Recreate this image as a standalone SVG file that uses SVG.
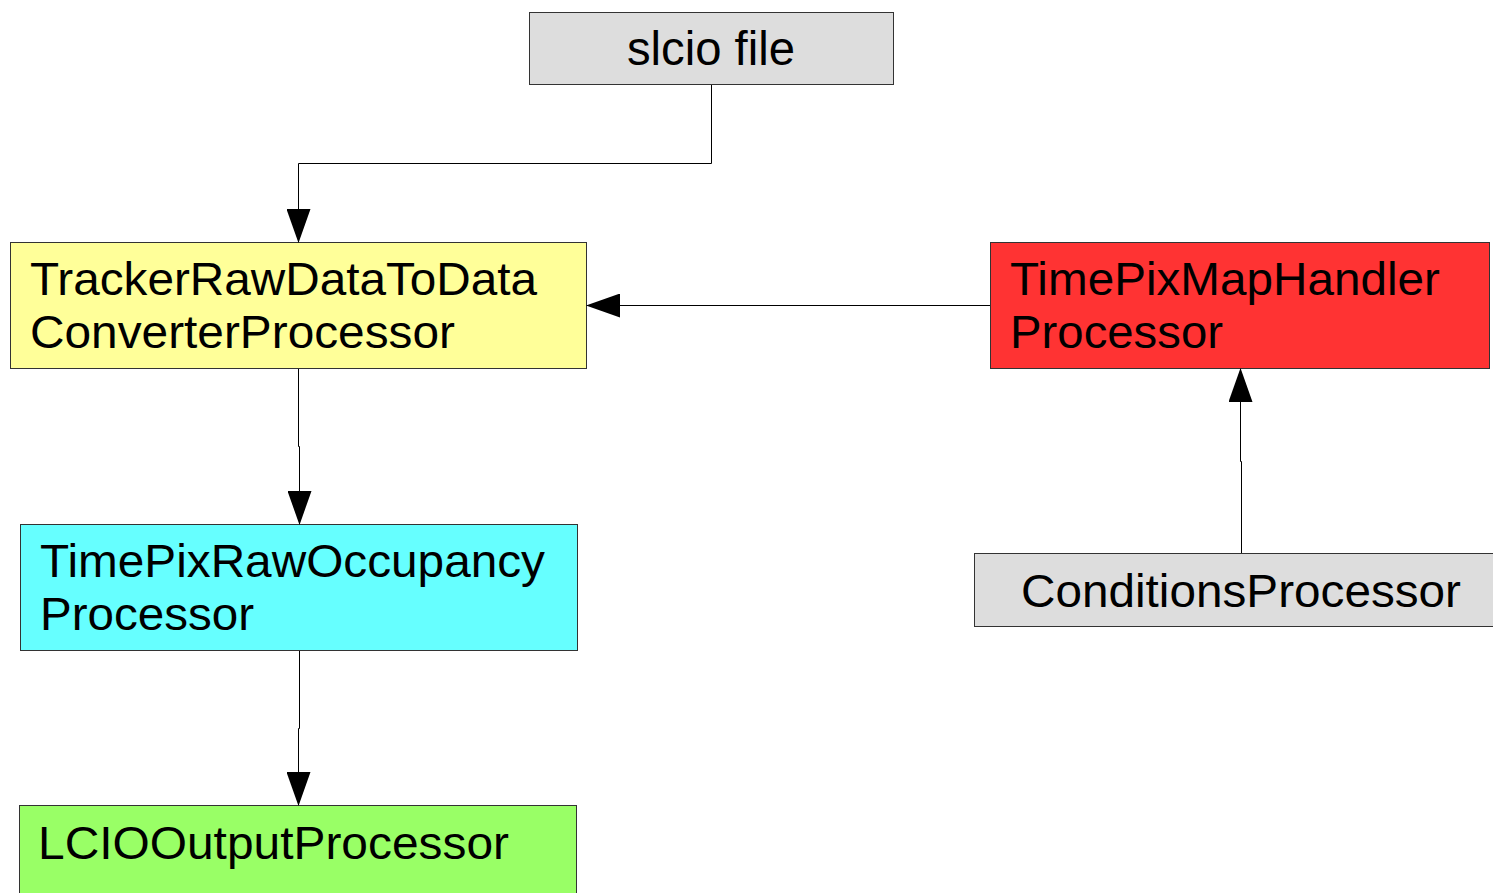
<svg xmlns="http://www.w3.org/2000/svg" width="1493" height="893" viewBox="0 0 1493 893">
<defs>
<marker id="arr" markerUnits="userSpaceOnUse" markerWidth="34" markerHeight="24" viewBox="0 0 34 24" refX="33" refY="12" orient="auto">
<path d="M0,0 L34,12 L0,24 Z" fill="#000"/>
</marker>
<style>
.box{stroke:#333;stroke-width:1}
.t{font-family:"Liberation Sans",Arial,sans-serif;font-size:47px;fill:#000}
.c{fill:none;stroke:#000;stroke-width:1}
</style>
</defs>
<rect width="1493" height="893" fill="#fff"/>
<g id="slcio">
<rect class="box" x="529.5" y="12.5" width="364" height="72" fill="#dddddd"/>
<text class="t" x="627" y="65" style="font-size:48px" textLength="168" lengthAdjust="spacingAndGlyphs">slcio file</text>
</g>
<g id="tracker">
<rect class="box" x="10.5" y="242.5" width="576" height="126" fill="#ffff99"/>
<text class="t" x="30" y="295" textLength="507" lengthAdjust="spacingAndGlyphs">TrackerRawDataToData</text>
<text class="t" x="30" y="348" textLength="425" lengthAdjust="spacingAndGlyphs">ConverterProcessor</text>
</g>
<g id="mapHandler">
<rect class="box" x="990.5" y="242.5" width="499" height="126" fill="#ff3333"/>
<text class="t" x="1010" y="295" textLength="430" lengthAdjust="spacingAndGlyphs">TimePixMapHandler</text>
<text class="t" x="1010" y="348" textLength="213" lengthAdjust="spacingAndGlyphs">Processor</text>
</g>
<g id="occupancy">
<rect class="box" x="20.5" y="524.5" width="557" height="126" fill="#66ffff"/>
<text class="t" x="40" y="577" textLength="505" lengthAdjust="spacingAndGlyphs">TimePixRawOccupancy</text>
<text class="t" x="40" y="630" textLength="214" lengthAdjust="spacingAndGlyphs">Processor</text>
</g>
<g id="conditions">
<rect class="box" x="974.5" y="553.5" width="530" height="73" fill="#dddddd"/>
<text class="t" x="1021" y="607" textLength="440" lengthAdjust="spacingAndGlyphs">ConditionsProcessor</text>
</g>
<g id="lcioOutput">
<rect class="box" x="19.5" y="805.5" width="557" height="100" fill="#99ff66"/>
<text class="t" x="38" y="859" textLength="471" lengthAdjust="spacingAndGlyphs">LCIOOutputProcessor</text>
</g>
<g id="connectors">
<polyline class="c" points="711.5,85 711.5,163.5 298.5,163.5 298.5,242" marker-end="url(#arr)"/>
<polyline class="c" points="990,305.5 587,305.5" marker-end="url(#arr)"/>
<polyline class="c" points="298.5,369 298.5,446.5 299.5,446.5 299.5,524" marker-end="url(#arr)"/>
<polyline class="c" points="299.5,651 299.5,728.5 298.5,728.5 298.5,805" marker-end="url(#arr)"/>
<polyline class="c" points="1241.5,553 1241.5,461.5 1240.5,461.5 1240.5,369" marker-end="url(#arr)"/>
</g>
</svg>
